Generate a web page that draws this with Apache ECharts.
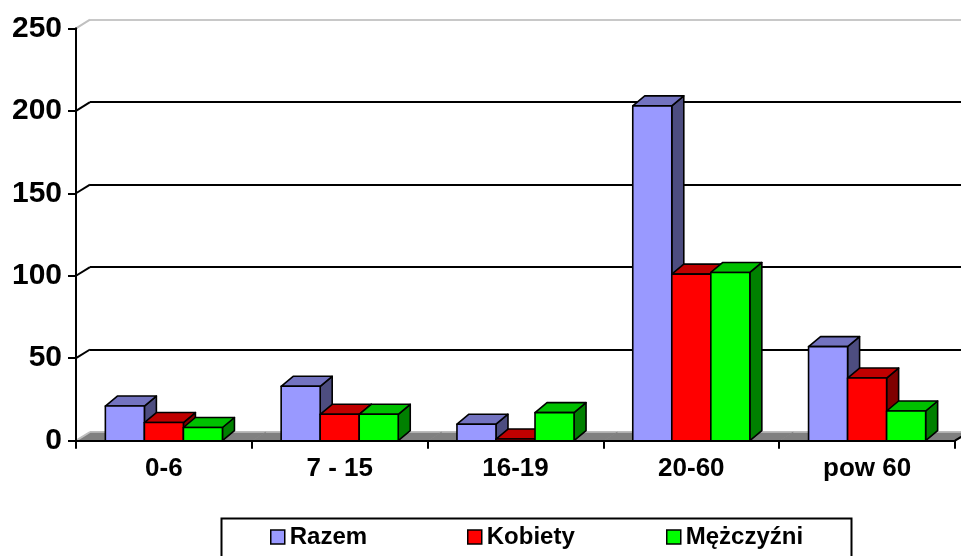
<!DOCTYPE html>
<html><head><meta charset="utf-8">
<script src="https://cdn.jsdelivr.net/npm/echarts@6/dist/echarts.min.js"></script>
<style>html,body{margin:0;padding:0;background:#fff}#c{width:961px;height:556px}</style>
</head><body><div id="c"></div>
<script>
const categories = ['0-6', '7 - 15', '16-19', '20-60', 'pow 60'];
const razem = [21, 33, 10, 203, 57];
const kobiety = [11, 16, 1, 101, 38];
const mezczyzni = [8, 16, 17, 102, 18];
const seriesNames = ['Razem', 'Kobiety', 'Mężczyźni'];
const yTicks = [0, 50, 100, 150, 200, 250];

const FRONT = ['#9999FF', '#FF0000', '#00FF00'];
const TOP = ['#7373C0', '#C00000', '#00C000'];
const SIDE = ['#4D4D80', '#800000', '#008000'];
const BDX = 12, BDY = -10;
const WDX = 14, WDY = -8.7;
const FONT = "'Liberation Sans', Arial, sans-serif";

function barRender(si) {
  return function (params, api) {
    const c = api.value(0), v = api.value(1);
    const base = api.coord([c, 0]);
    const top = api.coord([c, v]);
    const band = api.size([1, 0])[0];
    const w = band * 0.222;
    const x0 = base[0] + (si - 1.5) * w;
    const x1 = x0 + w;
    const yb = base[1], yt = top[1];
    const st = { stroke: '#000', lineWidth: 1.6, lineJoin: 'round' };
    return { type: 'group', children: [
      { type: 'polygon', shape: { points: [[x1, yb], [x1 + BDX, yb + BDY], [x1 + BDX, yt + BDY], [x1, yt]] }, style: Object.assign({}, st, { fill: SIDE[si] }) },
      { type: 'polygon', shape: { points: [[x0, yt], [x1, yt], [x1 + BDX, yt + BDY], [x0 + BDX, yt + BDY]] }, style: Object.assign({}, st, { fill: TOP[si] }) },
      { type: 'rect', shape: { x: x0, y: yt, width: w, height: yb - yt }, style: Object.assign({}, st, { fill: FRONT[si] }) }
    ]};
  };
}

function floorRender(params, api) {
  const c = api.value(0);
  const p = api.coord([c, 0]);
  const band = api.size([1, 0])[0];
  const l = p[0] - band / 2, r = p[0] + band / 2, y = p[1];
  const ch = [
    { type: 'polygon', shape: { points: [[l, y], [r + 0.5, y], [r + 0.5 + WDX, y + WDY], [l + WDX, y + WDY]] }, style: { fill: '#808080', stroke: '#808080', lineWidth: 0.5 } },
    { type: 'line', shape: { x1: l + WDX, y1: y + WDY, x2: r + WDX + 0.5, y2: y + WDY }, style: { stroke: '#c0c0c0', lineWidth: 1.5 } }
  ];
  if (c === categories.length - 1) {
    ch.push({ type: 'line', shape: { x1: r, y1: y, x2: r + WDX, y2: y + WDY }, style: { stroke: '#000', lineWidth: 2 } });
  }
  return { type: 'group', children: ch };
}

function slantRender(params, api) {
  const v = api.value(1);
  const p = api.coord([0, v]);
  const band = api.size([1, 0])[0];
  const x = p[0] - band / 2;
  const col = (v === 0 || v === 250) ? '#c0c0c0' : '#000';
  return { type: 'line', shape: { x1: x, y1: p[1], x2: x + WDX, y2: p[1] + WDY }, style: { stroke: col, lineWidth: 2 } };
}

const seriesData = [razem, kobiety, mezczyzni];
const chart = echarts.init(document.getElementById('c'), null, { renderer: 'canvas' });

const legendLefts = [270, 467, 666];
const option = {
  animation: false,
  backgroundColor: '#fff',
  grid: [
    { left: 76, right: 6, top: 28.3, bottom: 115.3 },
    { left: 76 + WDX, right: 6 - WDX, top: 28.3 + WDY, bottom: 115.3 - WDY }
  ],
  xAxis: [
    { type: 'category', gridIndex: 0, data: categories, z: 10,
      axisLine: { lineStyle: { color: '#000', width: 2 } },
      axisTick: { show: true, length: 8, lineStyle: { color: '#000', width: 2 } },
      axisLabel: { color: '#000', fontFamily: FONT, fontWeight: 'bold', fontSize: 26, margin: 15 } },
    { type: 'category', gridIndex: 1, data: categories, show: false }
  ],
  yAxis: [
    { type: 'value', gridIndex: 0, min: 0, max: 250, interval: 50, z: 10,
      axisLine: { show: true, lineStyle: { color: '#000', width: 2 } },
      axisTick: { show: true, length: 8, lineStyle: { color: '#000', width: 2 } },
      splitLine: { show: false },
      axisLabel: { color: '#000', fontFamily: FONT, fontWeight: 'bold', fontSize: 30, margin: 14 } },
    { type: 'value', gridIndex: 1, min: 0, max: 250, interval: 50,
      axisLine: { show: false }, axisTick: { show: false }, axisLabel: { show: false },
      splitLine: { show: true, lineStyle: { color: ['#c0c0c0', '#000', '#000', '#000', '#000', '#c8c8c8'], width: 2 } } }
  ],
  legend: legendLefts.map((lft, i) => ({
    data: [seriesNames[i]], left: lft, top: 525, padding: 0,
    itemWidth: 14, itemHeight: 14, itemGap: 0, itemTextGap: 5,
    icon: 'rect', selectedMode: false,
    itemStyle: { borderColor: '#000', borderWidth: 1.5 },
    textStyle: { color: '#000', fontFamily: FONT, fontWeight: 'bold', fontSize: 24 }
  })),
  graphic: [
    { type: 'rect', left: 219, top: 516, shape: { width: 630, height: 60 }, style: { fill: 'none', stroke: '#000', lineWidth: 2 }, z: 0 }
  ],
  series: [
    { type: 'custom', name: 'floor', xAxisIndex: 0, yAxisIndex: 0, z: 1,
      itemStyle: { color: '#808080' },
      data: categories.map((c, i) => [i, 0]), renderItem: floorRender },
    { type: 'custom', name: 'slants', xAxisIndex: 0, yAxisIndex: 0, z: 1,
      itemStyle: { color: '#000' },
      data: yTicks.map(v => [0, v]), renderItem: slantRender }
  ].concat(seriesNames.map((n, si) => ({
    type: 'custom', name: n, xAxisIndex: 0, yAxisIndex: 0, z: 3,
    itemStyle: { color: FRONT[si] },
    data: seriesData[si].map((v, i) => [i, v]),
    renderItem: barRender(si)
  })))
};
chart.setOption(option);
</script>
</body></html>
